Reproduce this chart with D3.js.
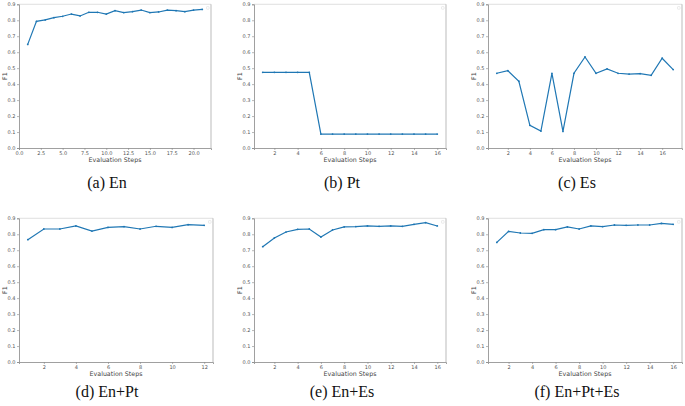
<!DOCTYPE html>
<html><head><meta charset="utf-8">
<script src="https://cdn.jsdelivr.net/npm/d3@7/dist/d3.min.js"></script>
<style>body{margin:0;background:#fff}svg{display:block}.cap{font-family:'Liberation Serif','DejaVu Serif',serif;font-size:16px}</style>
</head><body>
<svg id="c" width="685" height="406"></svg>
<script>
// ---- data ----
const enF1 = [0.649,0.793,0.802,0.816,0.825,0.839,0.827,0.850,0.850,0.839,0.860,0.848,0.854,0.864,0.848,0.852,0.864,0.860,0.854,0.864,0.868];
const ptF1 = [0.474,0.474,0.474,0.474,0.474,0.087,0.087,0.087,0.087,0.087,0.087,0.087,0.087,0.087,0.087,0.087];
const esF1 = [0.468,0.484,0.418,0.142,0.106,0.468,0.104,0.468,0.570,0.468,0.495,0.468,0.463,0.466,0.455,0.562,0.491];
const enPtF1 = [0.766,0.833,0.833,0.852,0.820,0.843,0.848,0.833,0.850,0.843,0.860,0.856];
const enEsF1 = [0.722,0.777,0.814,0.831,0.833,0.783,0.827,0.846,0.848,0.852,0.850,0.852,0.850,0.862,0.873,0.852];
const enPtEsF1 = [0.749,0.818,0.808,0.806,0.829,0.829,0.846,0.833,0.852,0.848,0.858,0.856,0.858,0.858,0.868,0.862];
const captions = ["(a) En","(b) Pt","(c) Es","(d) En+Pt","(e) En+Es","(f) En+Pt+Es"];
const yTicks = [0,0.1,0.2,0.3,0.4,0.5,0.6,0.7,0.8,0.9];
const xTicksA = [0,2.5,5,7.5,10,12.5,15,17.5,20];
const xTicksEven16 = [2,4,6,8,10,12,14,16];
const xTicksEven12 = [2,4,6,8,10,12];
const xLabel = "Evaluation Steps", yLabel = "F1";

// ---- layout ----
const panels = [
  {vals:enF1, xd:[0,22], ticks:xTicksA, fmt:d3.format(".1f"), x0:19, x1:211, y0:4.3, y1:148},
  {vals:ptF1, xd:[0.25,16.75], ticks:xTicksEven16, fmt:d3.format("d"), x0:254, x1:446, y0:4.3, y1:148},
  {vals:esF1, xd:[0.2,17.8], ticks:xTicksEven16, fmt:d3.format("d"), x0:488, x1:682, y0:4.3, y1:148},
  {vals:enPtF1, xd:[0.45,12.55], ticks:xTicksEven12, fmt:d3.format("d"), x0:19, x1:213, y0:218.3, y1:362},
  {vals:enEsF1, xd:[0.25,16.75], ticks:xTicksEven16, fmt:d3.format("d"), x0:254, x1:446, y0:218.3, y1:362},
  {vals:enPtEsF1, xd:[0.25,16.75], ticks:xTicksEven16, fmt:d3.format("d"), x0:488, x1:682, y0:218.3, y1:362}
];
const captionPos = [[107,188],[342,188],[577,188],[107,397],[342,397],[577,397]];

const svg = d3.select("#c");
const blue = "#1f77b4";

panels.forEach((p,i)=>{
  const x = d3.scaleLinear().domain(p.xd).range([p.x0,p.x1]);
  const y = d3.scaleLinear().domain([0,0.9]).range([p.y1,p.y0]);
  const g = svg.append("g");
  g.append("line").attr("x1",p.x0).attr("x2",p.x1).attr("y1",p.y0).attr("y2",p.y0).attr("stroke","#d8d8d8").attr("stroke-width",0.8);
  g.append("line").attr("x1",p.x1).attr("x2",p.x1).attr("y1",p.y0).attr("y2",p.y1).attr("stroke","#aaa").attr("stroke-width",0.8);
  const ax = d3.axisBottom(x).tickValues(p.ticks).tickFormat(p.fmt).tickSize(2).tickPadding(1.5);
  const ay = d3.axisLeft(y).tickValues(yTicks).tickFormat(d3.format(".1f")).tickSize(2).tickPadding(1.5);
  const gx = g.append("g").attr("transform",`translate(0,${p.y1})`).call(ax);
  const gy = g.append("g").attr("transform",`translate(${p.x0},0)`).call(ay);
  [gx,gy].forEach(a=>{
    a.select(".domain").attr("stroke","#888").attr("stroke-width",0.8);
    a.selectAll(".tick line").attr("stroke","#888").attr("stroke-width",0.6);
    a.selectAll(".tick text").attr("fill","#555").style("font-family","DejaVu Sans").style("font-size","5px");
  });
  g.append("rect").attr("x",p.x1-4.5).attr("y",p.y0+2.3).attr("width",2.6).attr("height",2.6).attr("rx",0.5)
    .attr("fill","none").attr("stroke","#ddd").attr("stroke-width",0.6);
  g.append("text").attr("x",(p.x0+p.x1)/2).attr("y",p.y1+13.5).attr("text-anchor","middle")
    .style("font-family","DejaVu Sans").style("font-size","6.3px").attr("fill","#444").text(xLabel);
  g.append("text").attr("transform",`translate(${p.x0-12.5},${(p.y0+p.y1)/2}) rotate(-90)`).attr("text-anchor","middle")
    .style("font-family","DejaVu Sans").style("font-size","6.3px").attr("fill","#444").text(yLabel);
  const pts = p.vals.map((v,k)=>[k+1,v]);
  g.append("path").datum(pts).attr("fill","none").attr("stroke",blue).attr("stroke-width",1.2)
    .attr("d",d3.line().x(d=>x(d[0])).y(d=>y(d[1])));
  g.selectAll("circle").data(pts).join("circle").attr("cx",d=>x(d[0])).attr("cy",d=>y(d[1])).attr("r",0.9).attr("fill",blue);
  svg.append("text").attr("class","cap").attr("x",captionPos[i][0]).attr("y",captionPos[i][1]).attr("text-anchor","middle")
    .attr("fill","#111").text(captions[i]);
});
</script>
</body></html>
